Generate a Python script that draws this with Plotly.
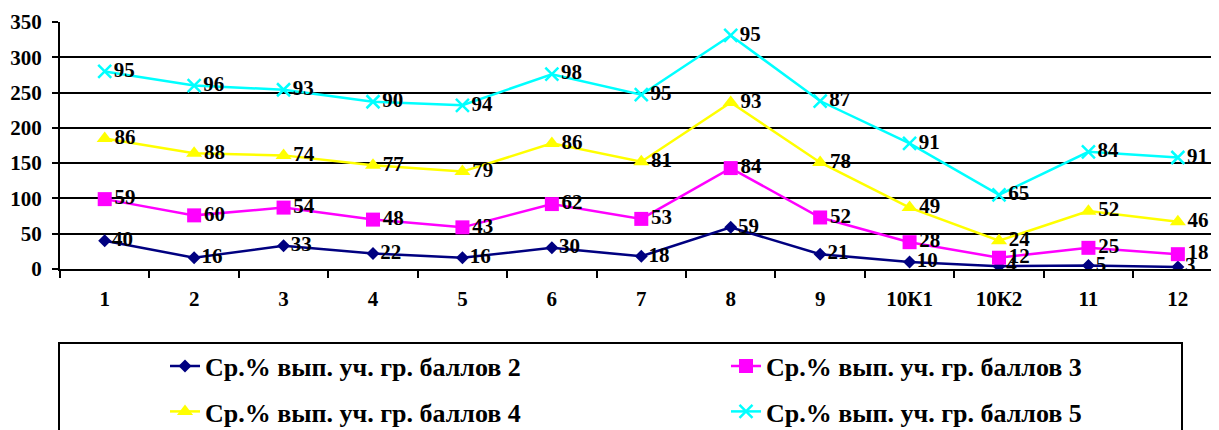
import plotly.graph_objects as go

categories = ["1", "2", "3", "4", "5", "6", "7", "8", "9", "10К1", "10К2", "11", "12"]
series_names = [
    "Ср.% вып. уч. гр. баллов 2",
    "Ср.% вып. уч. гр. баллов 3",
    "Ср.% вып. уч. гр. баллов 4",
    "Ср.% вып. уч. гр. баллов 5",
]
s2 = [40, 16, 33, 22, 16, 30, 18, 59, 21, 10, 4, 5, 3]
s3 = [59, 60, 54, 48, 43, 62, 53, 84, 52, 28, 12, 25, 18]
s4 = [86, 88, 74, 77, 79, 86, 81, 93, 78, 49, 24, 52, 46]
s5 = [95, 96, 93, 90, 94, 98, 95, 95, 87, 91, 65, 84, 91]
y_ticks = [0, 50, 100, 150, 200, 250, 300, 350]

FONT = "Liberation Serif"
FS_TICK = 21
FS_LAB = 21
FS_LEG = 26
colors = ["#000080", "#FF00FF", "#FFFF00", "#00FFFF"]
symbols = ["diamond", "square", "triangle-up", "x-thin-open"]
sizes = [10, 14, 14, 13]
legends = ["legend", "legend2", "legend3", "legend4"]

fig = go.Figure()
for name, vals, c, sym, sz, lg in zip(series_names, [s2, s3, s4, s5], colors, symbols, sizes, legends):
    marker = dict(symbol=sym, size=sz, color=c)
    if sym == "x-thin-open":
        marker["line"] = dict(color=c, width=2.5)
    fig.add_trace(go.Scatter(
        x=categories, y=vals, name=name, stackgroup="one", fill="none",
        mode="lines+markers+text",
        line=dict(color=c, width=2.5),
        marker=marker,
        text=[str(v) for v in vals], textposition="middle right",
        textfont=dict(family=FONT, size=FS_LAB, color="black", weight="bold"),
        legend=lg, hoverinfo="skip",
    ))

# page body has an 8px margin; work in window pixels and convert
OFF = 8
W, H = 1219 - OFF, 430 - OFF
L, R, T = 60 - OFF, 0, 22 - OFF
B = H - (269 - OFF)
pw = W - L - R
ph = H - T - B

def px_x(x):
    return (x - OFF - L) / pw

def px_y(y):
    return (H - B - (y - OFF)) / ph

fig.add_shape(type="rect", xref="paper", yref="paper",
              x0=px_x(59), x1=px_x(1182), y0=px_y(343), y1=px_y(470),
              line=dict(color="black", width=2), fillcolor="rgba(0,0,0,0)")

leg_common = dict(orientation="h",
                  font=dict(family=FONT, size=FS_LEG, color="black", weight="bold"),
                  xanchor="left", yanchor="middle", bgcolor="rgba(0,0,0,0)",
                  borderwidth=0, itemclick=False, itemdoubleclick=False)

leg_pos = {
    "legend": (165, 366),
    "legend2": (726, 366),
    "legend3": (165, 411.5),
    "legend4": (726, 411.5),
}
leg_layout = {k: dict(x=px_x(v[0]), y=px_y(v[1]), **leg_common) for k, v in leg_pos.items()}

fig.update_layout(
    width=W, height=H,
    margin=dict(l=L, r=R, t=T, b=B, autoexpand=False),
    paper_bgcolor="white", plot_bgcolor="white",
    showlegend=True,
    **leg_layout,
    xaxis=dict(type="category", range=[-0.5, 12.46], tickson="boundaries",
               ticks="outside", ticklen=7, tickwidth=2, tickcolor="black",
               showline=True, linecolor="black", linewidth=2, showgrid=False,
               tickfont=dict(family=FONT, size=FS_TICK, color="black", weight="bold"),
               ticklabelstandoff=10, automargin=False),
    yaxis=dict(range=[0, 350], tickvals=y_ticks, ticks="outside", ticklen=6,
               tickwidth=2, tickcolor="black", showline=True, linecolor="black",
               linewidth=2, showgrid=True, gridcolor="black", gridwidth=2,
               zeroline=False, automargin=False,
               tickfont=dict(family=FONT, size=FS_TICK, color="black", weight="bold"),
               ticklabelstandoff=6),
)
fig.write_html("out.html")
